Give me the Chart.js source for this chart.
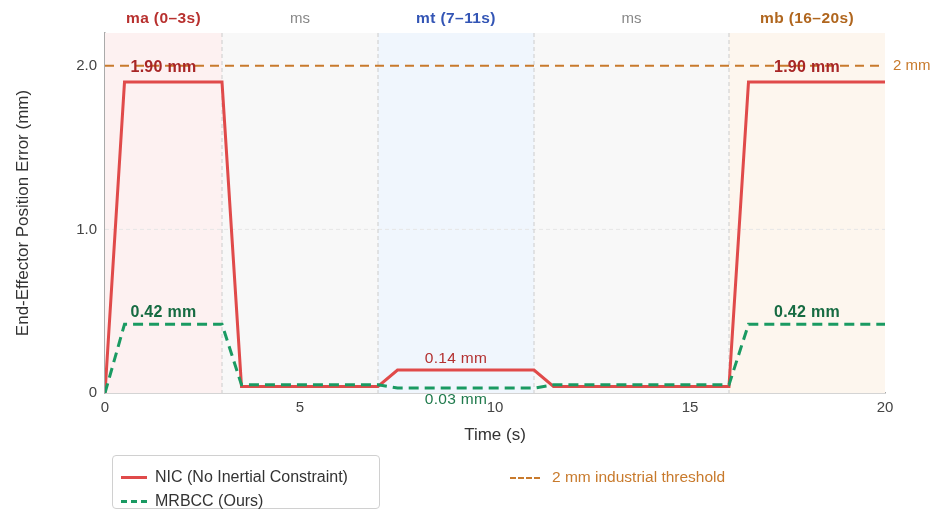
<!DOCTYPE html>
<html>
<head>
<meta charset="utf-8">
<script src="https://cdn.jsdelivr.net/npm/chart.js@4.4.1/dist/chart.umd.min.js"></script>
<style>
  body { margin: 0; background: #fff; font-family: "Liberation Sans", Arial, sans-serif; }
  #wrap { position: relative; width: 940px; height: 520px; }
  #legendBox { position: absolute; left: 112px; top: 455px; width: 266px; height: 52px;
    border: 1px solid #d0d0d0; border-radius: 4px; }
  .item { position: absolute; font-size: 16px; color: #333; white-space: nowrap; }
  .swatch { display: inline-block; width: 26px; height: 0; vertical-align: middle; margin-right: 8px; }
</style>
</head>
<body>
<div id="wrap">
  <canvas id="errChart" width="940" height="520"></canvas>
  <div id="legendBox"></div>
  <div class="item" style="left:121px; top:468px;"><span class="swatch" style="border-top:3px solid #e04a4a"></span>NIC (No Inertial Constraint)</div>
  <div class="item" style="left:121px; top:492px;"><span class="swatch" style="border-top:3px dashed #1a9a62"></span>MRBCC (Ours)</div>
  <div class="item" style="left:510px; top:468px; color:#c87a2c; font-size:15.5px;"><span class="swatch" style="border-top:2px dashed #c87a2c; width:30px; margin-right:12px;"></span>2 mm industrial threshold</div>
</div>
<script>
// time (s) and error (mm)
const nicTime = [0, 0.5, 3, 3.5, 7, 7.5, 11, 11.5, 16, 16.5, 20];
const nicError = [0, 1.9, 1.9, 0.04, 0.04, 0.14, 0.14, 0.04, 0.04, 1.9, 1.9];
const mrbccTime = [0, 0.5, 3, 3.5, 7, 7.5, 11, 11.5, 16, 16.5, 20];
const mrbccError = [0, 0.42, 0.42, 0.05, 0.05, 0.03, 0.03, 0.05, 0.05, 0.42, 0.42];
const threshold = 2.0;

// phases
const phaseNames = ["ma (0\u20133s)", "ms", "mt (7\u201311s)", "ms", "mb (16\u201320s)"];
const phaseStart = [0, 3, 7, 11, 16];
const phaseEnd = [3, 7, 11, 16, 20];
const phaseFill = ["#fdf1f1", "#f8f8f8", "#f0f6fd", "#f8f8f8", "#fdf6ee"];
const phaseColor = ["#b8312f", "#888888", "#3355b5", "#888888", "#b0661e"];
const phaseBold = [true, false, true, false, true];

// value labels: [x, y, text, color, bold]
const valueLabels = [
    [1.5, 1.99, "1.90 mm", "#a82626", true],
    [18, 1.99, "1.90 mm", "#a82626", true],
    [1.5, 0.49, "0.42 mm", "#166b42", true],
    [18, 0.49, "0.42 mm", "#166b42", true],
    [9, 0.21, "0.14 mm", "#b33030", false],
    [9, -0.04, "0.03 mm", "#1f7a4c", false]
];

const FONT = '"Liberation Sans", Arial, sans-serif';
const toPoints = (xs, ys) => xs.map((x, i) => ({ x: x, y: ys[i] }));

const phasePlugin = {
    id: 'phases',
    beforeDatasetsDraw(chart) {
        const { ctx, chartArea, scales } = chart;
        const x = scales.x;
        ctx.save();
        phaseStart.forEach((s, i) => {
            const x0 = x.getPixelForValue(s), x1 = x.getPixelForValue(phaseEnd[i]);
            ctx.fillStyle = phaseFill[i];
            ctx.fillRect(x0, chartArea.top, x1 - x0, chartArea.bottom - chartArea.top);
        });
        // horizontal grid
        ctx.strokeStyle = '#e6e6e6';
        ctx.setLineDash([4, 3]);
        ctx.lineWidth = 1;
        const yp = scales.y.getPixelForValue(1.0);
        ctx.beginPath(); ctx.moveTo(chartArea.left, yp); ctx.lineTo(chartArea.right, yp); ctx.stroke();
        // phase boundaries
        ctx.strokeStyle = '#cccccc';
        phaseStart.slice(1).forEach(s => {
            const px = x.getPixelForValue(s);
            ctx.beginPath(); ctx.moveTo(px, chartArea.top); ctx.lineTo(px, chartArea.bottom); ctx.stroke();
        });
        ctx.restore();
    },
    afterDraw(chart) {
        const { ctx, chartArea, scales } = chart;
        ctx.save();
        ctx.textAlign = 'center';
        ctx.textBaseline = 'middle';
        phaseNames.forEach((n, i) => {
            ctx.font = (phaseBold[i] ? 'bold 15.5px ' : '15px ') + FONT;
            ctx.letterSpacing = phaseBold[i] ? '0.4px' : '0px';
            ctx.fillStyle = phaseColor[i];
            const px = scales.x.getPixelForValue((phaseStart[i] + phaseEnd[i]) / 2);
            ctx.fillText(n, px, 19);
        });
        valueLabels.forEach(l => {
            ctx.font = (l[4] ? 'bold 16px ' : '15.5px ') + FONT;
            ctx.letterSpacing = '0.3px';
            ctx.fillStyle = l[3];
            ctx.fillText(l[2], scales.x.getPixelForValue(l[0]), scales.y.getPixelForValue(l[1]));
        });
        ctx.letterSpacing = '0px';
        ctx.font = '15px ' + FONT;
        ctx.fillStyle = '#c87a2c';
        ctx.textAlign = 'left';
        ctx.fillText('2 mm', chartArea.right + 8, scales.y.getPixelForValue(threshold));
        ctx.restore();
    }
};

const ctx = document.getElementById('errChart').getContext('2d');
const chart = new Chart(ctx, {
    type: 'line',
    data: {
        datasets: [
            {
                label: 'NIC (No Inertial Constraint)',
                data: toPoints(nicTime, nicError),
                borderColor: '#e04a4a',
                borderWidth: 3,
                pointRadius: 0,
                fill: false,
                order: 2
            },
            {
                label: 'MRBCC (Ours)',
                data: toPoints(mrbccTime, mrbccError),
                borderColor: '#1a9a62',
                borderWidth: 3,
                borderDash: [10, 6],
                pointRadius: 0,
                fill: false,
                order: 1
            },
            {
                label: '2 mm industrial threshold',
                data: [{ x: 0, y: threshold }, { x: 20, y: threshold }],
                borderColor: '#c87a2c',
                borderWidth: 2,
                borderDash: [9, 6],
                pointRadius: 0,
                fill: false,
                order: 3
            }
        ]
    },
    options: {
        responsive: false,
        animation: false,
        layout: { padding: { top: 33, right: 55, bottom: 72, left: 0 } },
        plugins: { legend: { display: false }, tooltip: { enabled: false } },
        scales: {
            x: {
                type: 'linear',
                min: 0,
                max: 20,
                afterFit: s => { s.height = 55; },
                ticks: { stepSize: 5, color: '#444', font: { size: 15, family: FONT }, padding: 6 },
                grid: { display: false, drawTicks: false },
                border: { color: '#aaaaaa', width: 1.5 },
                title: { display: true, text: 'Time (s)', color: '#333', font: { size: 17, family: FONT }, padding: { top: 2, bottom: 2 } }
            },
            y: {
                min: 0,
                max: 2.2,
                afterFit: s => { s.width = 105; },
                afterBuildTicks: s => { s.ticks = [{ value: 0 }, { value: 1 }, { value: 2 }]; },
                ticks: {
                    color: '#444',
                    font: { size: 15, family: FONT },
                    padding: 8,
                    callback: v => v === 0 ? '0' : v.toFixed(1)
                },
                grid: { display: false, drawTicks: false },
                border: { color: '#aaaaaa', width: 1.5 },
                title: { display: true, text: 'End-Effector Position Error (mm)', color: '#333', font: { size: 17, family: FONT }, padding: { top: 13 } }
            }
        }
    },
    plugins: [phasePlugin]
});
</script>
</body>
</html>
